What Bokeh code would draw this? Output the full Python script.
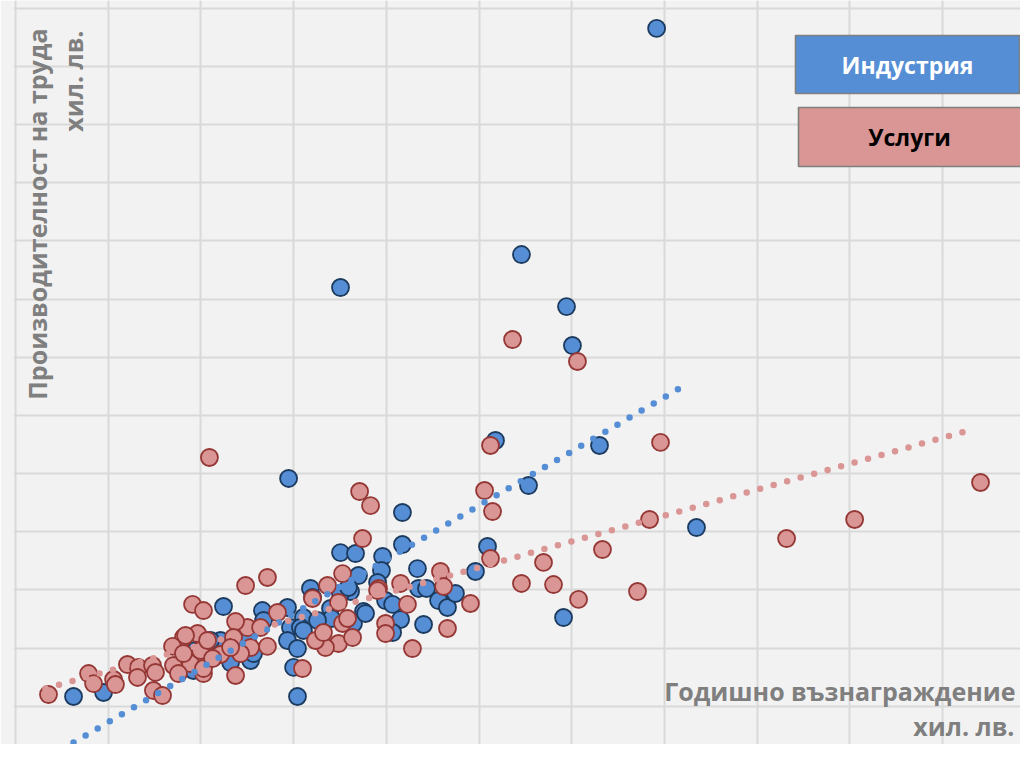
from bokeh.plotting import figure
from bokeh.models import Range1d, FixedTicker
from bokeh.core.properties import value
from bokeh.embed import file_html
from bokeh.resources import INLINE

# ---- data (thousand lv.) ----
industry_wage = [34.58, 27.29, 17.53, 29.72, 30.04, 25.89, 31.50, 14.73, 27.67, 20.87,
                 36.73, 29.56, 15.21, 3.13, 4.75, 11.22, 20.87, 25.46, 24.81, 17.53,
                 18.34, 19.80, 19.74, 18.50, 19.53, 21.68, 21.74, 22.17, 22.82, 23.30,
                 23.73, 19.96, 20.34, 18.77, 20.77, 20.34, 22.01, 18.07, 17.53, 17.96,
                 15.91, 16.02, 15.53, 14.67, 14.83, 14.67, 15.37, 15.21, 15.00, 16.99,
                 17.05, 16.29, 18.23, 18.88, 13.32, 13.38, 12.68, 12.84, 11.06, 11.60,
                 12.51, 9.60, 10.52, 9.71, 15.53]
industry_prod = [126.53, 87.67, 82.00, 78.73, 72.03, 55.70, 54.84, 49.17, 47.96, 43.32,
                 40.74, 25.27, 11.69, 11.69, 12.38, 27.16, 37.82, 37.48, 33.18, 36.44,
                 36.27, 35.76, 33.35, 32.49, 31.29, 33.69, 30.26, 30.26, 28.19, 26.99,
                 29.40, 28.19, 27.51, 26.30, 24.93, 22.69, 24.07, 29.74, 29.40, 30.43,
                 30.26, 28.71, 25.27, 26.99, 23.55, 21.32, 23.55, 19.94, 16.68, 26.82,
                 25.10, 24.76, 24.24, 25.96, 26.47, 24.76, 17.88, 19.08, 21.32, 17.53,
                 21.32, 16.16, 21.32, 19.60, 23.04]

services_wage = [26.81, 30.31, 10.46, 34.79, 25.62, 52.05, 18.56, 19.15, 25.30, 25.73,
                 45.26, 34.20, 41.59, 31.66, 28.48, 27.29, 29.02, 30.37, 33.55, 25.62,
                 24.54, 23.30, 21.41, 1.78, 18.72, 12.41, 13.59, 9.55, 10.14, 22.92,
                 23.09, 21.14, 20.77, 19.58, 19.96, 19.96, 17.42, 17.64, 17.42, 18.18,
                 17.64, 16.83, 16.02, 14.13, 16.72, 16.18, 16.61, 15.48, 13.59, 12.68,
                 11.87, 12.51, 11.87, 11.76, 12.14, 10.68, 11.06, 9.82, 9.06, 9.44,
                 10.14, 13.22, 17.91, 19.53, 3.94, 4.21, 5.29, 5.39, 6.04, 6.63,
                 6.58, 7.39, 7.55, 7.44, 7.93, 8.47, 8.52, 8.79, 9.17, 9.06,
                 9.98, 10.36, 11.60, 10.14, 10.63]
services_prod = [73.06, 69.28, 52.78, 55.36, 54.84, 48.48, 46.93, 44.52, 47.10, 43.49,
                 42.12, 42.12, 38.85, 36.96, 34.73, 31.12, 30.94, 28.37, 29.74, 35.41,
                 27.68, 23.38, 19.94, 12.03, 38.85, 30.77, 32.15, 27.51, 26.47, 33.18,
                 30.60, 27.51, 31.12, 30.26, 24.24, 22.52, 27.85, 24.24, 20.80, 21.83,
                 32.83, 30.77, 28.54, 26.13, 20.11, 21.32, 22.69, 16.50, 20.29, 20.11,
                 15.30, 23.55, 24.58, 21.83, 19.08, 18.39, 18.91, 22.52, 21.83, 17.36,
                 15.64, 23.55, 25.10, 29.91, 15.64, 13.92, 14.61, 13.75, 17.19, 16.68,
                 14.96, 17.02, 15.82, 12.72, 11.86, 20.29, 17.02, 15.64, 22.18, 19.08,
                 19.60, 21.32, 20.11, 16.50, 18.22]

industry_trend_wage = [3.13, 36.36]
industry_trend_prod = [3.78, 65.67]
services_trend_wage = [1.62, 51.62]
services_trend_prod = [13.07, 57.59]

series_names = ["Индустрия", "Услуги"]
x_title = ["Годишно възнаграждение", "хил. лв."]
y_title = ["Производителност на труда", "хил. лв."]

# ---- layout ----
W, H = 1020, 744
L = 13          # frame left, px
XS = 18.54      # px per x unit
YS = 5.817      # px per y unit
X0 = (L - 15) / XS
X1 = X0 + (W - L) / XS
Y1 = 764 / YS
Y0 = (764 - H) / YS

def dx(px):
    return (px - 15) / XS

def dy(py):
    return (764 - py) / YS

p = figure(width=W, height=H, output_backend="svg", toolbar_location=None,
           x_range=Range1d(X0, X1), y_range=Range1d(Y0, Y1),
           min_border_left=L, min_border_right=0, min_border_top=0, min_border_bottom=0)
p.xaxis.visible = False
p.yaxis.visible = False
p.background_fill_color = "#f2f2f2"
p.border_fill_color = "#f2f2f2"
p.outline_line_color = None
p.xgrid.ticker = FixedTicker(ticks=list(range(0, 60, 5)))
p.ygrid.ticker = FixedTicker(ticks=list(range(0, 140, 10)))
for g in (p.xgrid, p.ygrid):
    g.grid_line_color = "#d9d9d9"
    g.grid_line_width = 2

BLUE = "#558ed5"
BLUE_EDGE = "#1c3a5e"
RED = "#d99694"
RED_EDGE = "#953735"
GRAY = "#7f7f7f"
FONT = value("Open Sans")

p.scatter(industry_wage, industry_prod, size=17, fill_color=BLUE,
          line_color=BLUE_EDGE, line_width=1.8)
p.scatter(services_wage, services_prod, size=17, fill_color=RED,
          line_color=RED_EDGE, line_width=1.8)

p.line(industry_trend_wage, industry_trend_prod, line_color=BLUE, line_width=6.5,
       line_dash="0 14", line_cap="round")
p.line(services_trend_wage, services_trend_prod, line_color=RED, line_width=6.5,
       line_dash="0 14", line_cap="round")

# legend boxes
p.quad(left=[dx(795), dx(798)], right=[dx(1019), dx(1021)],
       top=[dy(35), dy(107)], bottom=[dy(93), dy(166)],
       fill_color=[BLUE, RED], line_color=GRAY, line_width=1.6)
p.text(x=[dx(907), dx(909)], y=[dy(64), dy(136)], text=series_names,
       text_color=["white", "black"], text_font=FONT, text_font_style="bold",
       text_font_size="23px", text_align="center", text_baseline="middle")

# axis titles
p.text(x=[dx(1015), dx(1014)], y=[dy(690), dy(725)], text=x_title,
       text_color=GRAY, text_font=FONT, text_font_style="bold",
       text_font_size="25px", text_align="right", text_baseline="alphabetic")
p.text(x=[dx(36), dx(72)], y=[dy(28), dy(30)], text=y_title,
       text_color=GRAY, text_font=FONT, text_font_style="bold",
       text_font_size="25px", text_align="right", text_baseline="alphabetic",
       angle=1.5708)

open("out.html", "w").write(file_html(p, INLINE))
